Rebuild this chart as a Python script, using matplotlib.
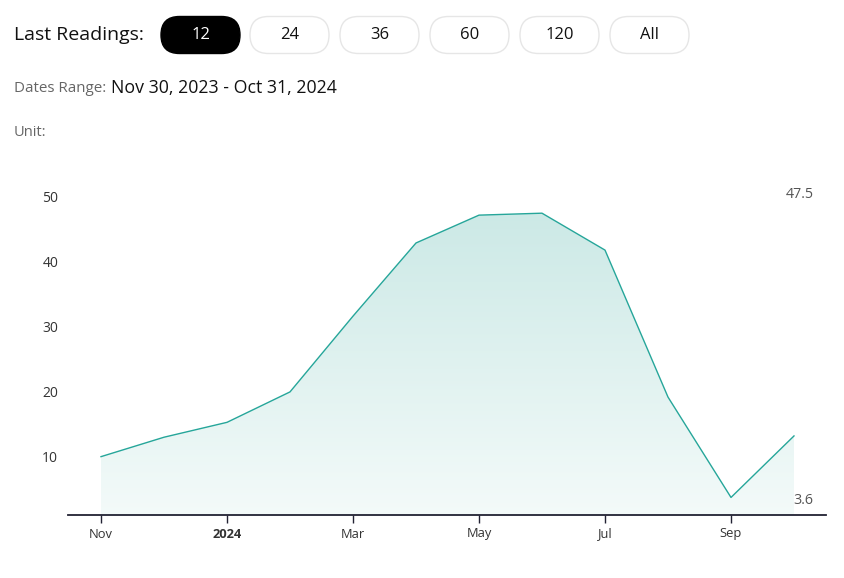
import matplotlib
matplotlib.use("Agg")
import matplotlib.pyplot as plt
import numpy as np
from matplotlib.patches import FancyBboxPatch, Polygon

months = ["Nov", "Dec", "Jan", "Feb", "Mar", "Apr", "May", "Jun", "Jul", "Aug", "Sep", "Oct"]
values = [9.9, 12.9, 15.2, 19.9, 31.6, 42.9, 47.2, 47.5, 41.8, 19.1, 3.6, 13.1]
xtick_labels = ["Nov", "2024", "Mar", "May", "Jul", "Sep"]
yticks = [10, 20, 30, 40, 50]
buttons = ["12", "24", "36", "60", "120", "All"]

W, H = 845, 578
fig = plt.figure(figsize=(W / 100, H / 100), dpi=100)
fig.patch.set_facecolor("white")

FONT = "Open Sans"

# Overlay axes in pixel coordinates for header
hdr = fig.add_axes([0, 0, 1, 1])
hdr.set_xlim(0, W)
hdr.set_ylim(H, 0)
hdr.axis("off")

hdr.text(14, 35, "Last Readings:", fontsize=14, family=FONT, color="#111111", va="center", ha="left")
btn_x = [161, 250, 340, 430, 520, 610]
btn_w = 79
btn_h = 37
for i, (b, bx) in enumerate(zip(buttons, btn_x)):
    active = i == 0
    patch = FancyBboxPatch((bx, 16.5), btn_w, btn_h,
                           boxstyle=f"round,pad=0,rounding_size={btn_h / 2}",
                           facecolor="black" if active else "white",
                           edgecolor="black" if active else "#e6e6e6", linewidth=1)
    hdr.add_patch(patch)
    hdr.text(bx + btn_w / 2, 35, b, fontsize=12, family=FONT,
             color="white" if active else "#111111", ha="center", va="center")

hdr.text(14, 89, "Dates Range:", fontsize=10.9, family=FONT, color="#666666", va="center", ha="left")
hdr.text(111, 88, "Nov 30, 2023 - Oct 31, 2024", fontsize=12.8, family=FONT, color="#111111", va="center", ha="left")
hdr.text(14, 132, "Unit:", fontsize=10.5, family=FONT, color="#666666", va="center", ha="left")

# Chart axes
ax_left, ax_right, ax_top, ax_bottom = 68, 826, 180, 515
ax = fig.add_axes([ax_left / W, 1 - ax_bottom / H, (ax_right - ax_left) / W, (ax_bottom - ax_top) / H])
x = np.arange(len(values))
ymin = 10 - (515 - 456) / 6.475
ymax = 10 + (456 - 180) / 6.475
ax.set_xlim(-33 / 63, 11 + 32 / 63)
ax.set_ylim(ymin, ymax)
ax.patch.set_alpha(0)

line_color = "#26a69a"
verts = [(x[0], ymin)] + list(zip(x, values)) + [(x[-1], ymin)]
poly = Polygon(verts, closed=True, facecolor="none", edgecolor="none")
ax.add_patch(poly)
top_c = np.array([0.80, 0.914, 0.902])
bot_c = np.array([0.955, 0.982, 0.978])
n = 256
t = np.linspace(0, 1, n)[:, None]
grad = (top_c[None, :] * (1 - t) + bot_c[None, :] * t)[:, None, :]
grad = np.repeat(grad, 2, axis=1)
im = ax.imshow(grad, extent=[x[0], x[-1], ymin, max(values)], aspect="auto", origin="upper", zorder=1)
im.set_clip_path(poly)
ax.plot(x, values, color=line_color, linewidth=1.0, zorder=3)

for s in ["top", "right", "left"]:
    ax.spines[s].set_visible(False)
ax.spines["bottom"].set_color("#222233")
ax.spines["bottom"].set_linewidth(1.3)

ax.set_yticks(yticks)
ax.set_yticklabels([str(v) for v in yticks], family=FONT, fontsize=10, color="#333333")
ax.tick_params(axis="y", length=0, pad=7)
ax.set_xticks(x[::2])
ax.set_xticklabels(xtick_labels, family=FONT, fontsize=9.3, color="#333333")
for lbl in ax.get_xticklabels():
    if lbl.get_text() == "2024":
        lbl.set_fontweight("bold")
ax.tick_params(axis="x", length=6, width=1, color="#222233", pad=3)

# max / min labels
hdr.text(800, 194, f"{max(values):g}", fontsize=10.3, family=FONT, color="#555555", ha="center", va="center")
hdr.text(803, 500, f"{min(values):g}", fontsize=10.3, family=FONT, color="#555555", ha="center", va="center")

fig.savefig("out.png", dpi=100, facecolor="white")
